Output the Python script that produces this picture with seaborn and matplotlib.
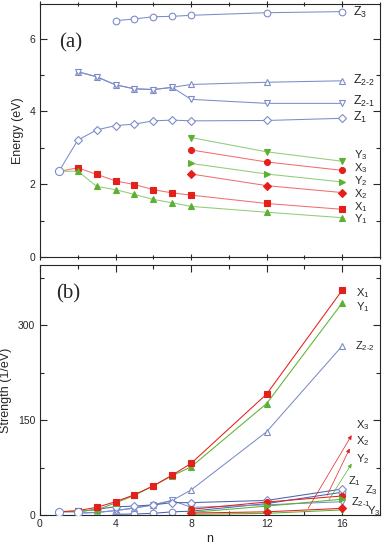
import numpy as np
import pandas as pd
import seaborn as sns
import matplotlib
matplotlib.use("Agg")
import matplotlib.pyplot as plt
from matplotlib.ticker import MultipleLocator

# ---- data: panel (a) energies (eV) ----
n_all = [1, 2, 3, 4, 5, 6, 7, 8, 12, 16]
n_z2 = [2, 3, 4, 5, 6, 7, 8, 12, 16]
n_z3 = [4, 5, 6, 7, 8, 12, 16]
n_big = [8, 12, 16]

e_z3 = [6.49, 6.54, 6.60, 6.61, 6.64, 6.71, 6.74]
e_z22 = [5.09, 4.95, 4.73, 4.62, 4.60, 4.66, 4.74, 4.80, 4.84]
e_z21 = [5.09, 4.95, 4.73, 4.62, 4.60, 4.66, 4.33, 4.22, 4.22]
e_z1 = [2.35, 3.21, 3.49, 3.61, 3.65, 3.74, 3.76, 3.74, 3.75, 3.81]
e_x1 = [2.35, 2.45, 2.27, 2.09, 1.99, 1.85, 1.76, 1.70, 1.47, 1.31]
e_y1 = [2.35, 2.36, 1.94, 1.85, 1.72, 1.58, 1.49, 1.39, 1.23, 1.08]
e_y3 = [3.28, 2.89, 2.63]
e_x3 = [2.94, 2.61, 2.38]
e_y2 = [2.57, 2.28, 2.06]
e_x2 = [2.28, 1.96, 1.77]

# ---- data: panel (b) strengths (1/eV) ----
s_x1 = [5, 7, 12, 21, 32, 46, 63, 81.5, 191, 355]
s_y1 = [5, 6, 8, 19, 31, 46, 62, 76, 176, 335]
s_z22 = [3, 4, 7, 11, 16, 23, 39.5, 131.5, 267]
s_z21 = [3, 4, 7, 11, 16, 23, 12, 16, 21]
s_z1 = [5, 5, 9, 13, 14, 16, 19.5, 19.5, 23, 41]
s_z3 = [1, 1.6, 2.6, 5, 6, 18, 36]
s_x3 = [9, 20.5, 30]
s_x2 = [3, 5, 10.5]
s_y3 = [1, 2.6, 8]
s_y2 = [4, 14, 25]

BLUE = "#7c8cc8"
DBLUE = "#4a62b0"
RED = "#e3201c"
GREEN = "#5cb132"

sns.set_style("ticks")
plt.rcParams["font.family"] = ["Liberation Sans", "DejaVu Sans"]
plt.rcParams["mathtext.fontset"] = "custom"
plt.rcParams["mathtext.rm"] = "Liberation Sans"
plt.rcParams["mathtext.it"] = "Liberation Sans:italic"


def series(ax, x, y, color, marker, filled=True, ms=4.5, lcolor=None, markevery=None):
    sns.lineplot(x=x, y=y, ax=ax, estimator=None, sort=False,
                 color=lcolor or color, linewidth=0.75,
                 marker=marker, markersize=ms,
                 markerfacecolor=color if filled else "white",
                 markeredgecolor=color, markeredgewidth=0.8,
                 markevery=markevery)


fig = plt.figure(figsize=(3.82, 5.46), dpi=100)
ax_a = fig.add_axes([0.1047, 0.5293, 0.890, 0.4634])
ax_b = fig.add_axes([0.1047, 0.0568, 0.890, 0.4580])

# ---- panel (a) ----
skip0 = list(range(1, len(n_all)))
series(ax_a, n_z3, e_z3, BLUE, "o", False, 4.8)
series(ax_a, n_z2, e_z22, BLUE, "^", False, 4.8)
series(ax_a, n_z2, e_z21, BLUE, "v", False, 4.8)
series(ax_a, n_all, e_z1, BLUE, "D", False, 4, markevery=skip0)
series(ax_a, n_all, e_x1, RED, "s", True, 4.2, lcolor="#ee7070", markevery=skip0)
series(ax_a, n_all, e_y1, GREEN, "^", True, 4.8, lcolor="#90cc78", markevery=skip0)
series(ax_a, n_big, e_y3, GREEN, "v", True, 4.8, lcolor="#90cc78")
series(ax_a, n_big, e_x3, RED, "o", True, 4.3, lcolor="#ee7070")
series(ax_a, n_big, e_y2, GREEN, ">", True, 4.8, lcolor="#90cc78")
series(ax_a, n_big, e_x2, RED, "D", True, 4, lcolor="#ee7070")
sns.scatterplot(x=[1], y=[2.35], ax=ax_a, marker="o", s=34, color="white",
                edgecolor=BLUE, linewidth=0.8, zorder=5)

ax_a.set_xlim(0, 18)
ax_a.set_ylim(0, 6.95)
ax_a.set_ylabel("Energy (eV)", fontsize=9)
ax_a.set_xlabel("")
ax_a.text(1.6, 5.88, "(a)", fontsize=15, family="Liberation Serif", ha="center", va="center")

labels_a = [
    (6.72, "Z$_3$"), (4.86, "Z$_{2\\text{-}2}$"), (4.28, "Z$_{2\\text{-}1}$"), (3.82, "Z$_1$"),
]
for yv, t in labels_a:
    ax_a.text(16.55, yv, t, fontsize=9, va="center", ha="left")
labels_a2 = [
    (2.81, "Y$_3$"), (2.43, "X$_3$"), (2.08, "Y$_2$"), (1.74, "X$_2$"),
    (1.37, "X$_1$"), (1.03, "Y$_1$"),
]
for yv, t in labels_a2:
    ax_a.text(16.65, yv, t, fontsize=8, va="center", ha="left")

# ---- panel (b) ----
series(ax_b, n_z3, s_z3, BLUE, "o", False, 4.8, lcolor=DBLUE)
series(ax_b, n_z2, s_z22, BLUE, "^", False, 4.8)
series(ax_b, n_z2, s_z21, BLUE, "v", False, 4.8)
series(ax_b, n_all, s_z1, BLUE, "D", False, 4, lcolor=DBLUE, markevery=skip0)
series(ax_b, n_big, s_y3, GREEN, "v", True, 4.8)
series(ax_b, n_big, s_x3, RED, "o", True, 4.3)
series(ax_b, n_big, s_y2, GREEN, ">", True, 4.8)
series(ax_b, n_big, s_x2, RED, "D", True, 4)
series(ax_b, n_all, s_y1, GREEN, "^", True, 4.8, markevery=skip0)
series(ax_b, n_all, s_x1, RED, "s", True, 4.2, markevery=skip0)
sns.scatterplot(x=[1, 2], y=[5, 5], ax=ax_b, marker="o", s=34, color="white",
                edgecolor=BLUE, linewidth=0.8, zorder=5)

arrows = [
    ((14.2, 10.6), (16.5, 126), RED),
    ((15.2, 31), (16.4, 105), RED),
    ((15.3, 24), (16.5, 81), GREEN),
]
for tail, tip, c in arrows:
    ax_b.annotate("", xy=tip, xytext=tail,
                  arrowprops=dict(arrowstyle="-|>", color=c, lw=0.5,
                                  mutation_scale=6, shrinkA=0, shrinkB=0))

labels_b = [
    (16.75, 351, "X$_1$"), (16.75, 329, "Y$_1$"), (16.7, 266, "Z$_{2\\text{-}2}$"),
    (16.75, 142, "X$_3$"), (16.75, 117, "X$_2$"), (16.75, 89, "Y$_2$"),
    (16.3, 53, "Z$_1$"), (17.2, 40, "Z$_3$"), (16.45, 20, "Z$_{2\\text{-}1}$"),
    (17.3, 6, "Y$_3$"),
]
for xv, yv, t in labels_b:
    ax_b.text(xv, yv, t, fontsize=8, va="center", ha="left")
ax_b.text(1.5, 350, "(b)", fontsize=15, family="Liberation Serif", ha="center", va="center")

ax_b.set_xlim(0, 18)
ax_b.set_ylim(0, 395)
ax_b.set_ylabel("Strength (1/eV)", fontsize=9)
ax_b.set_xlabel("n", fontsize=9, labelpad=3)

for ax in (ax_a, ax_b):
    ax.xaxis.set_major_locator(MultipleLocator(4))
    ax.xaxis.set_minor_locator(MultipleLocator(2))
    for s in ax.spines.values():
        s.set_linewidth(0.8)
    ax.tick_params(which="both", direction="in", top=True, right=True,
                   labelsize=7.5, width=0.8)
    ax.tick_params(which="major", length=5)
    ax.tick_params(which="minor", length=3)

ax_a.yaxis.set_major_locator(MultipleLocator(2))
ax_a.yaxis.set_minor_locator(MultipleLocator(1))
ax_a.tick_params(axis="x", which="both", direction="inout", labelbottom=False)
ax_b.yaxis.set_major_locator(MultipleLocator(150))
ax_b.yaxis.set_minor_locator(MultipleLocator(75))
ax_b.tick_params(axis="x", pad=3)

fig.savefig("out.png", dpi=100)
